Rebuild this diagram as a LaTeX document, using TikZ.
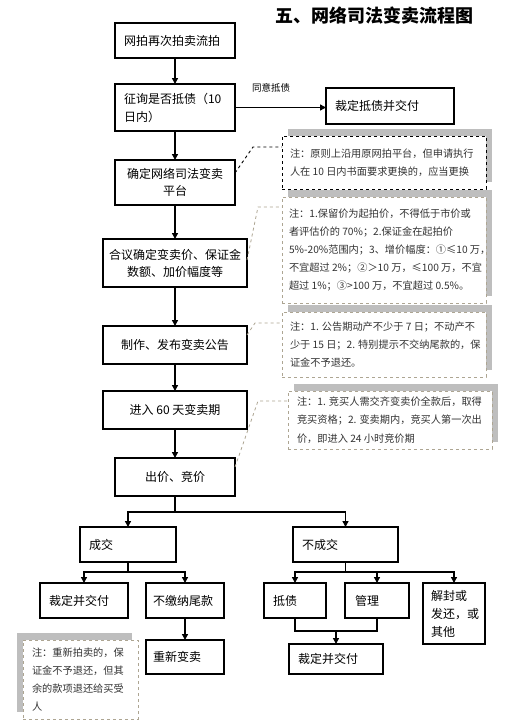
\documentclass[tikz,border=0pt]{standalone}
\usepackage{fontspec}
\setmainfont{Noto Sans CJK SC}
\usetikzlibrary{arrows.meta,shadows}
\definecolor{notedash}{HTML}{ADA592}
\definecolor{shadowgray}{HTML}{BEBEBE}
\definecolor{notetext}{HTML}{333333}
\tikzset{
  every node/.style={inner sep=0pt, outer sep=0pt},
  box/.style={draw, line width=1.2pt, fill=white},
  lbox/.style={box, align=left, inner xsep=9pt, font=\fontsize{12}{18}\selectfont},
  cbox/.style={box, align=center, font=\fontsize{12}{17}\selectfont},
  arr/.style={line width=1.4pt, -{Triangle[length=6pt,width=6pt]}},
  ln/.style={line width=1.4pt},
  noteframe/.style={draw=notedash, dashed, line width=0.8pt, fill=white,
     drop shadow={shadow xshift=6pt, shadow yshift=7pt, fill=shadowgray, opacity=1}},
  noteframeL/.style={draw=notedash, dashed, line width=0.8pt, fill=white,
     drop shadow={shadow xshift=-6pt, shadow yshift=7pt, fill=shadowgray, opacity=1}},
  notetxt/.style={align=left, anchor=west, text=notetext, font=\fontsize{10.2}{18.2}\selectfont},
  connA/.style={draw=black, dashed, line width=0.9pt},
  connB/.style={draw=notedash, dashed, line width=0.8pt},
}
\begin{document}
\begin{tikzpicture}[x=1pt,y=-1pt]
\useasboundingbox (0,0) rectangle (526,724);
\fill[white] (0,0) rectangle (526,724);

% title
\node[font=\fontsize{18}{20}\selectfont\bfseries] (title) at (374,16) {五、网络司法变卖流程图};

% main column
\node[lbox, text width=102pt, minimum height=35pt] (b1) at (175,40.5) {网拍再次拍卖流拍};
\node[lbox, text width=102pt, minimum height=47pt] (b2) at (175,107.5) {征询是否抵债（10\\日内）};
\node[lbox, text width=110pt, minimum height=36pt] (b3) at (390,106) {裁定抵债并交付};
\node[cbox, minimum width=120pt, minimum height=45pt] (b4) at (175,182.5) {确定网络司法变卖\\平台};
\node[cbox, minimum width=144pt, minimum height=48pt] (b5) at (175,263) {合议确定变卖价、保证金\\数额、加价幅度等};
\node[cbox, minimum width=144pt, minimum height=38pt] (b6) at (175,345) {制作、发布变卖公告};
\node[cbox, minimum width=144pt, minimum height=38pt] (b7) at (175,410) {进入 60 天变卖期};
\node[cbox, minimum width=120pt, minimum height=38pt] (b8) at (175,477) {出价、竞价};

\draw[arr] (b1) -- (b2);
\draw[arr] (b2.east) -- (b2.east -| b3.west);
\node[font=\fontsize{9.5}{11}\selectfont] (lab) at (271,88) {同意抵债};
\draw[arr] (b2) -- (b4);
\draw[arr] (b4) -- (b5);
\draw[arr] (b5) -- (b6);
\draw[arr] (b6) -- (b7);
\draw[arr] (b7) -- (b8);

% notes
\node[noteframe, draw=black, minimum width=204pt, minimum height=53pt] (n1) at (384,162.5) {};
\node[notetxt] (n1t) at ([xshift=8pt]n1.west) {注：原则上沿用原网拍平台，但申请执行\\人在 10 日内书面要求更换的，应当更换};

\node[noteframe, minimum width=204pt, minimum height=106pt] (n2) at (384,250) {};
\node[notetxt] (n2t) at ([xshift=7pt]n2.west) {注：1.保留价为起拍价，不得低于市价或\\者评估价的 70\%；2.保证金在起拍价\\5\%-20\%范围内；3、增价幅度：①≤10 万，\\不宜超过 2\%；②＞10 万，≤100 万，不宜\\超过 1\%；③>100 万，不宜超过 0.5\%。};

\node[noteframe, minimum width=204pt, minimum height=65pt] (n3) at (384,344.5) {};
\node[notetxt] (n3t) at ([xshift=8pt]n3.west) {注：1. 公告期动产不少于 7 日；不动产不\\少于 15 日；2. 特别提示不交纳尾款的，保\\证金不予退还。};

\node[noteframe, minimum width=204pt, minimum height=58pt] (n4) at (390,420) {};
\node[notetxt] (n4t) at ([xshift=9pt]n4.west) {注：1. 竞买人需交齐变卖价全款后，取得\\竞买资格；2. 变卖期内，竞买人第一次出\\价，即进入 24 小时竞价期};

% connectors to notes
\coordinate (c1) at (253,147);
\draw[connA] ([yshift=9.5pt]b4.east) -- (c1) -- (c1 -| n1.west);
\coordinate (c2) at (258,207);
\draw[connB] ([yshift=3pt]b5.east) -- (c2) -- (c2 -| n2.west);
\coordinate (c3) at (255,323);
\draw[connB] ([yshift=10pt]b6.east) -- (c3) -- (c3 -| n3.west);
\coordinate (c4) at (258,401);
\draw[connB] ([yshift=10pt]b8.east) -- (c4) -- (c4 -| n4.west);

% branches
\node[lbox, text width=78pt, inner xsep=9pt, minimum height=35pt] (cj) at (128,544.5) {成交};
\node[lbox, text width=87pt, inner xsep=9pt, minimum height=35pt] (bcj) at (345.5,544.5) {不成交};
\coordinate (j1) at (175,512);
\draw[ln] (b8.south) -- (j1);
\draw[arr] (j1) -| (cj.north);
\draw[arr] (j1) -| (bcj.north);

\node[lbox, text width=70pt, minimum height=35pt] (cdL) at (84,600.5) {裁定并交付};
\node[lbox, text width=64pt, inner xsep=7pt, minimum height=35pt] (bjn) at (185,600.5) {不缴纳尾款};
\node[lbox, text width=64pt, inner xsep=7pt, minimum height=34pt] (cxbm) at (185,657) {重新变卖};
\coordinate (j2) at (128,572);
\draw[ln] (cj.south) -- (j2);
\draw[arr] (j2) -| (cdL.north);
\draw[arr] (j2) -| (bjn.north);
\draw[arr] (bjn) -- (cxbm);

\node[noteframeL, minimum width=115pt, minimum height=79pt] (n5) at (80.5,679.5) {};
\node[notetxt] (n5t) at ([xshift=9pt]n5.west) {注：重新拍卖的，保\\证金不予退还，但其\\余的款项退还给买受\\人};

\node[lbox, text width=44pt, minimum height=35pt] (dz) at (295,600.5) {抵债};
\node[lbox, text width=44pt, inner xsep=10pt, minimum height=35pt] (gl) at (377,600.5) {管理};
\node[lbox, text width=46pt, inner xsep=8pt, minimum height=61pt] (jf) at (454,613.5) {解封或\\发还，或\\其他};
\node[lbox, text width=76pt, minimum height=30pt] (cdR) at (336,659) {裁定并交付};
\coordinate (j3) at (345.5,572);
\draw[ln] (bcj.south) -- (j3);
\draw[arr] (j3) -| (dz.north);
\draw[arr] (j3) -| (gl.north);
\draw[arr] (j3) -| (jf.north);
\coordinate (j4) at (336,631);
\draw[ln] (dz.south) |- (j4) -| (gl.south);
\draw[arr] (j4) -- (cdR.north);
\end{tikzpicture}
\end{document}
